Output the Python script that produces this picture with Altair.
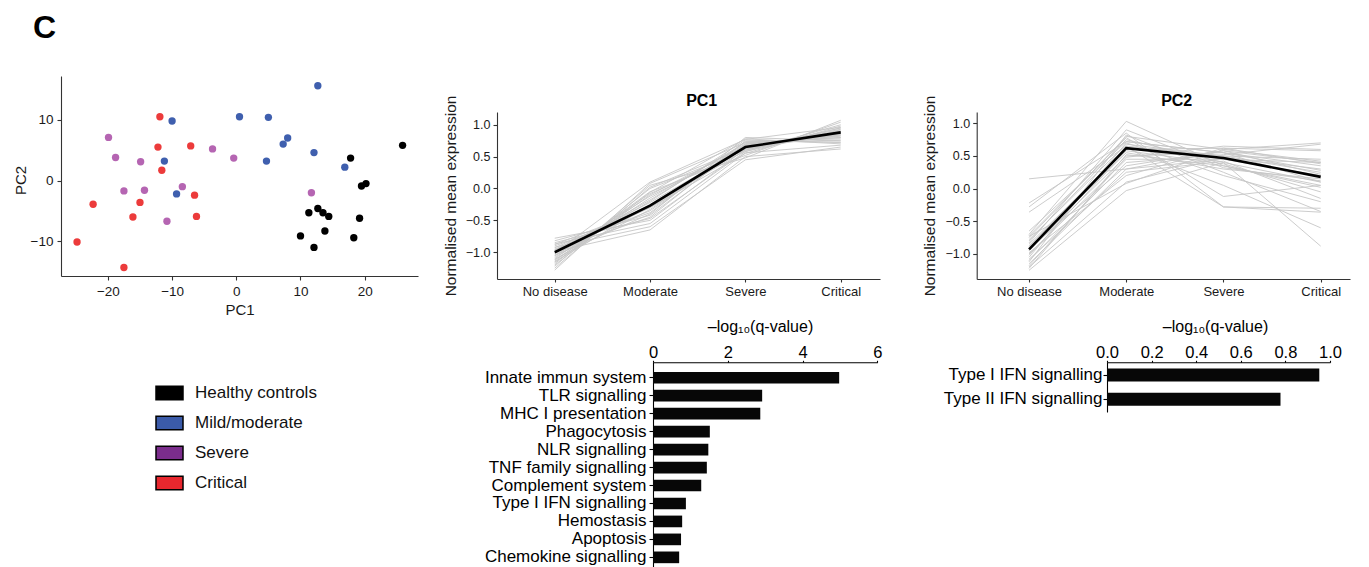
import altair as alt
import pandas as pd

FONT = "Liberation Sans"
H = 559  # height of the single layered view

# ---------------- scatter (PCA) ----------------
groups = ["Healthy controls", "Mild/moderate", "Severe", "Critical"]
point_colors = ["#000000", "#3f5fae", "#b565b2", "#ec3b3b"]
legend_colors = ["#000000", "#3b5ba9", "#7b2d8c", "#e8272e"]

healthy_pc1 = [25.9, 17.8, 19.5, 20.2, 12.7, 11.3, 13.5, 14.4, 19.2, 13.8, 10.0, 18.3, 12.1]
healthy_pc2 = [5.8, 3.7, -0.9, -0.5, -4.6, -5.3, -5.3, -5.9, -6.2, -8.3, -9.1, -9.4, -11.0]
mild_pc1 = [12.7, -10.0, 0.5, 5.0, 8.0, 7.3, 12.1, 4.7, -11.2, 16.9, -9.3]
mild_pc2 = [15.6, 9.8, 10.5, 10.4, 7.0, 6.0, 4.6, 3.2, 3.2, 2.2, -2.2]
severe_pc1 = [-19.9, -18.8, -14.9, -3.7, -0.4, -17.5, -14.3, -8.4, -10.8, 11.7]
severe_pc2 = [7.1, 3.8, 3.1, 5.2, 3.7, -1.7, -1.6, -1.0, -6.7, -2.0]
critical_pc1 = [-11.9, -12.2, -7.1, -11.6, -22.3, -24.8, -15.0, -16.1, -6.5, -6.2, -17.5]
critical_pc2 = [10.5, 5.5, 5.7, 1.7, -3.9, -10.1, -3.6, -6.0, -2.4, -5.9, -14.3]

# ---------------- line panels ----------------
stages = ["No disease", "Moderate", "Severe", "Critical"]
pc1_mean = [-1.00, -0.27, 0.65, 0.88]
pc2_mean = [-0.93, 0.62, 0.47, 0.18]

pc1_genes = [
    [-0.78, -0.50, 0.62, 0.85], [-0.82, -0.42, 0.70, 0.80], [-0.85, -0.47, 0.58, 0.92],
    [-0.88, -0.30, 0.66, 0.88], [-0.90, -0.38, 0.74, 0.78], [-0.93, -0.28, 0.60, 0.95],
    [-0.95, -0.35, 0.68, 0.83], [-0.97, -0.22, 0.64, 0.90], [-1.00, -0.30, 0.55, 0.98],
    [-1.02, -0.18, 0.72, 0.76], [-1.04, -0.25, 0.66, 0.87], [-1.06, -0.12, 0.62, 0.93],
    [-1.08, -0.20, 0.76, 0.72], [-1.10, -0.08, 0.58, 1.00], [-1.12, -0.15, 0.70, 0.82],
    [-1.14, -0.05, 0.52, 1.04], [-1.16, -0.10, 0.67, 0.86], [-1.18, 0.00, 0.60, 0.95],
    [-1.20, -0.06, 0.78, 0.70], [-1.22, 0.05, 0.48, 1.07], [-1.25, 0.02, 0.64, 0.90],
    [-1.28, 0.08, 0.72, 0.80], [-0.92, -0.60, 0.45, 0.65], [-0.99, -0.65, 0.50, 0.62],
    [-1.05, -0.40, 0.80, 0.75], [-0.87, -0.55, 0.56, 0.68], [-1.11, -0.33, 0.69, 0.84],
    [-0.96, -0.45, 0.74, 0.73], [-1.01, 0.10, 0.77, 0.96], [-1.15, -0.26, 0.63, 0.89],
]
pc2_genes = [
    [0.15, 0.30, 0.45, 0.40], [-0.22, 0.72, 0.55, 0.10], [-0.28, 0.85, -0.28, -0.30],
    [-0.36, 0.65, 0.50, 0.25], [-0.70, 1.03, 0.35, 0.05], [-0.75, 0.80, 0.60, 0.70],
    [-0.80, 0.75, 0.40, -0.88], [-0.85, 0.60, 0.62, 0.58], [-0.90, 0.55, 0.30, 0.15],
    [-0.95, 0.50, 0.55, 0.35], [-1.00, 0.45, 0.45, 0.20], [-1.05, 0.70, 0.20, -0.20],
    [-1.10, 0.40, 0.52, 0.68], [-1.15, 0.30, 0.58, 0.40], [-1.20, 0.10, 0.48, 0.30],
    [-1.25, -0.03, 0.40, 0.10], [-0.72, 0.78, -0.12, 0.05], [-0.88, 0.62, 0.05, -0.60],
    [-0.98, 0.20, 0.62, 0.38], [-1.12, 0.82, 0.25, -0.35], [-0.78, 0.68, 0.50, 0.45],
    [-1.02, 0.58, 0.38, -0.05], [-0.92, 0.35, 0.58, 0.22], [-1.18, 0.48, 0.65, 0.60],
    [-0.83, 0.90, 0.32, 0.12], [-1.08, 0.25, 0.42, -0.15], [-0.65, 0.72, 0.55, 0.28],
    [-1.22, 0.52, 0.35, 0.02], [-0.95, 0.65, -0.28, -0.36], [-0.73, 0.08, 0.60, 0.42],
]

# ---------------- enrichment bars ----------------
pathways1 = ["Innate immun system", "TLR signalling", "MHC I presentation", "Phagocytosis",
             "NLR signalling", "TNF family signalling", "Complement system",
             "Type I IFN signalling", "Hemostasis", "Apoptosis", "Chemokine signalling"]
qvals1 = [4.98, 2.92, 2.87, 1.52, 1.48, 1.44, 1.29, 0.88, 0.78, 0.75, 0.70]
pathways2 = ["Type I IFN signalling", "Type II IFN signalling"]
qvals2 = [0.952, 0.778]

# ---------------- data frames ----------------
scatter_df = pd.DataFrame({
    "group": [groups[0]] * len(healthy_pc1) + [groups[1]] * len(mild_pc1)
             + [groups[2]] * len(severe_pc1) + [groups[3]] * len(critical_pc1),
    "PC1": healthy_pc1 + mild_pc1 + severe_pc1 + critical_pc1,
    "PC2": healthy_pc2 + mild_pc2 + severe_pc2 + critical_pc2,
})
legend_df = pd.DataFrame({"group": groups})


def genes_df(genes):
    return pd.DataFrame([
        {"gene": f"g{i}", "stage": s, "value": v}
        for i, vals in enumerate(genes) for s, v in zip(stages, vals)
    ])


def mean_df(vals):
    return pd.DataFrame({"stage": stages, "value": vals})


AX = "#333333"
TXT = "#1a1a1a"


def bottom_at(y):   # offset that puts a bottom axis at view row y
    return y - H


def left_at(x):     # offset that puts a left axis at view column x
    return -x


def top_at(y):      # offset that puts a top axis at view row y
    return -y


def axis(**kw):
    base = dict(grid=False, labelFont=FONT, titleFont=FONT, titleFontWeight="normal",
                labelColor=TXT, titleColor=TXT, domainWidth=1.1, tickWidth=1.1,
                labelFlush=False)
    base.update(kw)
    return alt.Axis(**base)


# ---------------- scatter ----------------
scatter = alt.Chart(scatter_df).mark_circle(size=54, opacity=1).encode(
    x=alt.X("PC1:Q",
            scale=alt.Scale(domain=[-27.3, 28.3], range=[53, 410], nice=False, zero=False),
            axis=axis(orient="bottom", offset=bottom_at(268),
                      values=[-20, -10, 0, 10, 20], format="d",
                      title="PC1", titleFontSize=15, titleX=231.5, titleY=38,
                      titleBaseline="alphabetic", labelFontSize=13.5, tickSize=4,
                      labelPadding=4, domainColor=AX, tickColor=AX)),
    y=alt.Y("PC2:Q",
            scale=alt.Scale(domain=[-15.7, 17.2], range=[268, 68], nice=False, zero=False),
            axis=axis(orient="left", offset=left_at(53), values=[-10, 0, 10],
                      format="d", title="PC2", titleFontSize=15, titleAngle=270,
                      titleX=-36, titleY=172, titleBaseline="alphabetic",
                      labelFontSize=13.5, tickSize=4, labelPadding=4,
                      domainColor=AX, tickColor=AX)),
    color=alt.Color("group:N", scale=alt.Scale(domain=groups, range=point_colors), legend=None),
)

# ---------------- legend ----------------
legend_y = alt.Y("group:N", sort=groups,
                 scale=alt.Scale(type="point", domain=groups, range=[385, 475], padding=0),
                 axis=None)
swatches = alt.Chart(legend_df).mark_point(
    shape="M-1,-0.5L1,-0.5L1,0.5L-1,0.5Z", filled=True, size=729,
    stroke="#000000", strokeWidth=1.5, opacity=1
).encode(
    x=alt.value(161.5), y=legend_y,
    fill=alt.Fill("group:N", scale=alt.Scale(domain=groups, range=legend_colors), legend=None),
)
legend_text = alt.Chart(legend_df).mark_text(
    align="left", baseline="middle", fontSize=17, font=FONT, color="#111111"
).encode(x=alt.value(187), y=legend_y, text="group:N")


# ---------------- line panels ----------------
def line_panel(genes, mean, xrange, pad, align, ydom):
    xs = alt.Scale(type="point", domain=stages, range=xrange, padding=pad, align=align)
    ys = alt.Scale(domain=ydom, range=[271, 104], nice=False, zero=False)
    gray = alt.Chart(genes_df(genes)).mark_line(color="#c6c6c6", strokeWidth=0.9).encode(
        x=alt.X("stage:N", sort=stages, scale=xs,
                axis=axis(orient="bottom", offset=bottom_at(271), title=None,
                          labelAngle=0, labelFontSize=13, tickSize=3, labelPadding=3,
                          domainColor=AX, tickColor=AX)),
        y=alt.Y("value:Q", scale=ys,
                axis=axis(orient="left", offset=left_at(xrange[0]),
                          values=[-1, -0.5, 0, 0.5, 1], format=".1f",
                          title="Normalised mean expression",
                          titleFontSize=15.5, titleAngle=270, titleX=-42, titleY=187.5,
                          titleBaseline="alphabetic", labelFontSize=12.5, tickSize=4,
                          labelPadding=3, domainColor=AX, tickColor=AX)),
        detail="gene:N",
    )
    avg = alt.Chart(mean_df(mean)).mark_line(color="#000000", strokeWidth=2.6).encode(
        x=alt.X("stage:N", sort=stages, scale=xs, axis=None),
        y=alt.Y("value:Q", scale=ys, axis=None),
    )
    return gray, avg


pc1_gray, pc1_avg = line_panel(pc1_genes, pc1_mean, [489, 872], 0.509, 0.595, [-1.42, 1.2])
pc2_gray, pc2_avg = line_panel(pc2_genes, pc2_mean, [968.7, 1342], 0.42, 0.641, [-1.383, 1.173])


# ---------------- bars ----------------
def bar_panel(names, vals, xdom, xvals, xfmt, xrange, yrange, pin, pout, align, title_x, lpad):
    df = pd.DataFrame({"pathway": names, "q": vals})
    return alt.Chart(df).mark_bar(color="#070707").encode(
        x=alt.X("q:Q", scale=alt.Scale(domain=xdom, range=xrange, nice=False, zero=True),
                axis=axis(orient="top", offset=top_at(yrange[0]),
                          values=xvals, format=xfmt,
                          title="–log₁₀(q-value)", titleFontSize=16, titleX=title_x,
                          titleY=-31.3, titleBaseline="alphabetic", labelFontSize=16.5,
                          tickSize=2, labelPadding=0, domainColor="#000000",
                          tickColor="#000000", labelColor="#000000", titleColor="#000000")),
        y=alt.Y("pathway:N", sort=names,
                scale=alt.Scale(domain=names, range=yrange, paddingInner=pin,
                                paddingOuter=pout, align=align),
                axis=axis(orient="left", offset=left_at(xrange[0]), title=None,
                          labelFontSize=17, tickSize=4, labelPadding=lpad, labelLimit=400,
                          labelOverlap=False, domainColor="#000000",
                          tickColor="#000000", labelColor="#000000")),
    )


bar1 = bar_panel(pathways1, qvals1, [0, 6], [0, 2, 4, 6], "d", [645, 869.3], [354.3, 559.3],
                 0.35, 0.382, 0.70, 752, 3)
bar2 = bar_panel(pathways2, qvals2, [0, 1], [0, 0.2, 0.4, 0.6, 0.8, 1.0], ".1f", [1099, 1322],
                 [354.3, 404], 0.465, 0.26, 0.5, 1207, 1)

# ---------------- annotations ----------------
panel_letter = alt.Chart(pd.DataFrame({"t": ["C"]})).mark_text(
    align="left", baseline="alphabetic", fontSize=32, fontWeight="bold", font=FONT, color="#000000"
).encode(x=alt.value(25), y=alt.value(29.5), text="t:N")
pc1_title = alt.Chart(pd.DataFrame({"t": ["PC1"]})).mark_text(
    align="center", baseline="alphabetic", fontSize=16, fontWeight="bold", font=FONT, color="#000000"
).encode(x=alt.value(693.7), y=alt.value(98), text="t:N")
pc2_title = alt.Chart(pd.DataFrame({"t": ["PC2"]})).mark_text(
    align="center", baseline="alphabetic", fontSize=16, fontWeight="bold", font=FONT, color="#000000"
).encode(x=alt.value(1168.7), y=alt.value(98), text="t:N")

chart = alt.layer(
    scatter, swatches, legend_text,
    pc1_gray, pc1_avg, pc2_gray, pc2_avg,
    bar1, bar2,
    panel_letter, pc1_title, pc2_title,
).resolve_scale(
    x="independent", y="independent", color="independent", fill="independent"
).resolve_axis(
    x="independent", y="independent"
).properties(
    width=1353, height=H, padding=0, background="white",
    autosize=alt.AutoSizeParams(type="none"),
).configure_view(stroke=None)

chart.save("out.html", embed_options={"renderer": "svg", "actions": False})
